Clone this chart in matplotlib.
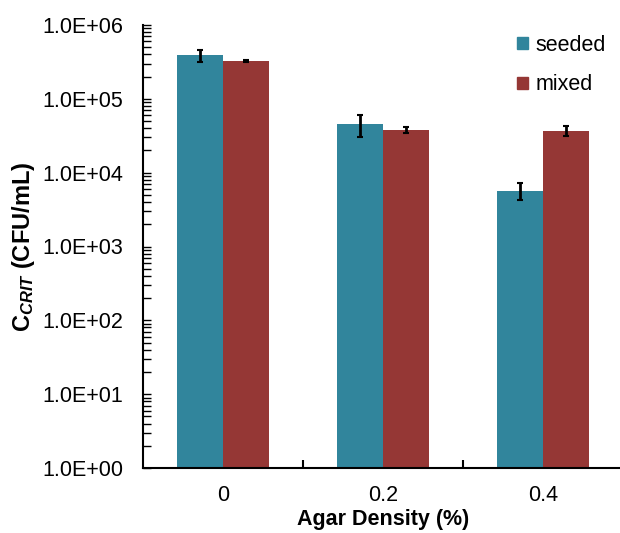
import numpy as np
import matplotlib.pyplot as plt
from matplotlib.patches import Patch
from matplotlib.ticker import FixedLocator, FuncFormatter, LogLocator, NullFormatter

plt.rcParams['font.family'] = ['Liberation Sans', 'DejaVu Sans']
plt.rcParams['mathtext.fontset'] = 'custom'
plt.rcParams['mathtext.rm'] = 'Liberation Sans'
plt.rcParams['mathtext.bf'] = 'Liberation Sans:bold'
plt.rcParams['mathtext.it'] = 'Liberation Sans:italic'
plt.rcParams['mathtext.bfit'] = 'Liberation Sans:bold:italic'

categories = ['0', '0.2', '0.4']
seeded = [3.9e5, 4.5e4, 5.7e3]
seeded_err = [7e4, 1.5e4, 1.5e3]
mixed = [3.3e5, 3.8e4, 3.7e4]
mixed_err = [1e4, 3.5e3, 6e3]

teal = '#31859C'
red = '#953735'

fig = plt.figure(figsize=(6.2, 5.33), dpi=100)
ax = fig.add_axes([143/620, 1 - 468/533, 480/620, 443/533])

x = np.arange(len(categories))
w = 0.2875
ax.bar(x - w/2, seeded, w, color=teal, yerr=seeded_err,
       error_kw=dict(ecolor='black', elinewidth=2, capsize=2, capthick=1.5))
ax.bar(x + w/2, mixed, w, color=red, yerr=mixed_err,
       error_kw=dict(ecolor='black', elinewidth=2, capsize=2, capthick=1.5))

ax.set_yscale('log')
ax.set_ylim(1, 1e6)
ax.set_xlim(-0.5, 2.5)

ax.yaxis.set_major_locator(LogLocator(base=10, numticks=10))
ax.yaxis.set_minor_locator(LogLocator(base=10, subs=np.arange(2, 10), numticks=10))
ax.yaxis.set_minor_formatter(NullFormatter())
ax.yaxis.set_major_formatter(FuncFormatter(lambda v, p: '1.0E+%02d' % round(np.log10(v))))
ax.tick_params(axis='y', which='major', direction='in', length=6, width=1, pad=14, labelsize=15.5)
ax.tick_params(axis='y', which='minor', direction='in', length=6, width=1)

ax.set_xticks(x)
ax.set_xticklabels(categories)
ax.xaxis.set_minor_locator(FixedLocator([0.5, 1.5]))
ax.tick_params(axis='x', which='major', length=0, pad=12.5, labelsize=15.5)
ax.tick_params(axis='x', which='minor', direction='in', length=6, width=1.5)

for s in ['top', 'right']:
    ax.spines[s].set_visible(False)
for s in ['left', 'bottom']:
    ax.spines[s].set_linewidth(1.5)

ax.set_xlabel('Agar Density (%)', fontsize=15.5, fontweight='bold', labelpad=2)
ax.set_ylabel(r'$\mathbf{C}_{\mathbfit{CRIT}}$ (CFU/mL)', fontsize=17,
              fontweight='bold', labelpad=4)

handles = [Patch(color=teal), Patch(color=red)]
fig.legend(handles, ['seeded', 'mixed'], loc='upper left',
           bbox_to_anchor=(517/620, 1 - 35/533), frameon=False, fontsize=15.5,
           handlelength=0.5, handleheight=0.5, handletextpad=0.35,
           labelspacing=0.85, borderpad=0, borderaxespad=0)

fig.savefig('out.png', dpi=100)
